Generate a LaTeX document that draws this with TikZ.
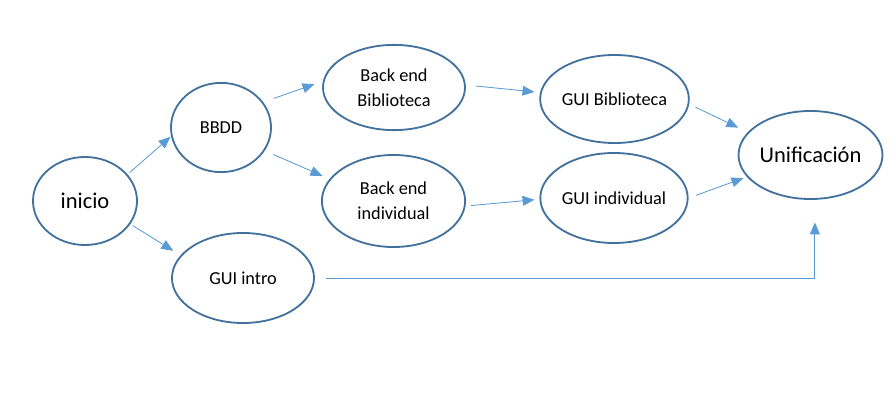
\documentclass[tikz,border=0pt]{standalone}
\usepackage{fontspec}
\setmainfont{Carlito}
\usetikzlibrary{shapes.geometric,arrows.meta}
\definecolor{borde}{HTML}{41719C}
\definecolor{flecha}{HTML}{5B9BD5}
\begin{document}
\begin{tikzpicture}[x=0.025cm,y=-0.025cm,
    >={Triangle[length=8.5pt,width=7pt]},
    etapa/.style={ellipse,draw=borde,line width=1.3pt,inner sep=0pt,align=center,
        font=\fontsize{13}{17.5}\selectfont},
    grande/.style={font=\fontsize{16}{19}\selectfont},
    flujo/.style={->,draw=flecha,line width=0.6pt}]
    \useasboundingbox (0,0) rectangle (896,407);
    \node[etapa,grande,minimum width=2.6cm,minimum height=2.2cm] (inicio) at (85,201) {inicio};
    \node[etapa,minimum width=2.5cm,minimum height=2.23cm] (bbdd) at (221,127.5) {BBDD};
    \node[etapa,minimum width=3.55cm,minimum height=2.25cm] (intro) at (243,278) {GUI intro};
    \node[etapa,minimum width=3.55cm,minimum height=2.13cm] (backbib) at (394,87.5) {Back end\\Biblioteca};
    \node[etapa,minimum width=3.58cm,minimum height=2.3cm] (backind) at (393.5,201) {Back end\\individual};
    \node[etapa,minimum width=3.58cm,minimum height=2.2cm] (guibib) at (614.5,99) {GUI Biblioteca};
    \node[etapa,minimum width=3.55cm,minimum height=2.25cm] (guiind) at (614,198) {GUI individual};
    \node[etapa,grande,minimum width=3.58cm,minimum height=2.2cm] (unif) at (810.5,155) {Unificación};
    % conexiones
    \draw[flujo,shorten <=2pt,shorten >=0.5pt] (inicio.32) -- (bbdd.190);
    \draw[flujo,shorten <=2pt,shorten >=6pt] (inicio.-27) -- (intro.160);
    \draw[flujo,shorten <=8pt,shorten >=6.3pt] (bbdd.31) -- (backbib.175);
    \draw[flujo,shorten <=6.6pt,shorten >=5.5pt] (bbdd.-28) -- (backind.161);
    \draw[flujo,shorten <=7pt,shorten >=4pt] (backbib.2) -- (guibib.175);
    \draw[flujo,shorten <=3.7pt,shorten >=3.5pt] (backind.-4) -- (guiind.181);
    \draw[flujo,shorten <=5pt,shorten >=7.5pt] (guibib.-4) -- (unif.160);
    \draw[flujo,shorten <=5.7pt,shorten >=2.6pt] (guiind.0) -- (unif.199);
    \draw[flujo,shorten <=8pt,shorten >=16pt] (intro.east) -| ([xshift=0.11cm]unif.south);
\end{tikzpicture}
\end{document}
